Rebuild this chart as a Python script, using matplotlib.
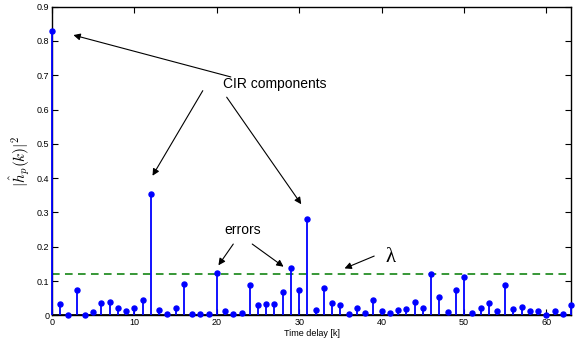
import matplotlib
matplotlib.use("Agg")
import matplotlib.pyplot as plt

# |h_p(k)|^2 per delay tap
delays = list(range(64))
power = [
    0.830, 0.033, 0.002, 0.073, 0.001, 0.011, 0.037, 0.038, 0.023, 0.012,
    0.023, 0.045, 0.353, 0.017, 0.005, 0.023, 0.093, 0.004, 0.004, 0.005,
    0.124, 0.012, 0.005, 0.006, 0.088, 0.031, 0.033, 0.034, 0.068, 0.138,
    0.073, 0.280, 0.015, 0.081, 0.035, 0.031, 0.004, 0.023, 0.006, 0.044,
    0.013, 0.008, 0.017, 0.018, 0.039, 0.023, 0.120, 0.054, 0.011, 0.073,
    0.111, 0.008, 0.022, 0.036, 0.013, 0.090, 0.020, 0.025, 0.013, 0.013,
    0.001, 0.014, 0.003, 0.030,
]
threshold = 0.122

x_ticks = [0, 10, 20, 30, 40, 50, 60]
y_ticks = [0, 0.1, 0.2, 0.3, 0.4, 0.5, 0.6, 0.7, 0.8, 0.9]
y_tick_labels = ["0", "0.1", "0.2", "0.3", "0.4", "0.5", "0.6", "0.7", "0.8", "0.9"]

BLUE = "#0000ff"
GREEN = "#007a00"

plt.rcParams["font.family"] = ["Liberation Sans", "DejaVu Sans"]
plt.rcParams["mathtext.fontset"] = "cm"

fig = plt.figure(figsize=(5.84, 3.47), dpi=100)
ax = fig.add_axes([0.089, 0.091, 0.889, 0.890])

markerline, stemlines, baseline = ax.stem(delays, power, basefmt="k-")
plt.setp(stemlines, color=BLUE, linewidth=1.3, zorder=3, clip_on=False)
plt.setp(markerline, color=BLUE, markersize=3.6, zorder=4, clip_on=False)
plt.setp(baseline, color="black", linewidth=2)

ax.axhline(threshold, color=GREEN, linestyle=(0, (5, 3.5)), linewidth=1.1, zorder=1)

ax.set_xlim(0, 63)
ax.set_ylim(0, 0.9)
ax.set_xticks(x_ticks)
ax.set_yticks(y_ticks)
ax.set_yticklabels(y_tick_labels)
ax.tick_params(direction="in", top=True, right=True, labelsize=6.5, length=4, width=0.8, pad=2)
for s in ax.spines.values():
    s.set_linewidth(1)
ax.set_xlabel("Time delay [k]", fontsize=6.5, labelpad=1)
ax.set_ylabel(r"$|\hat{h}_p(k)|^2$", fontsize=11, labelpad=3)

arrow = dict(arrowstyle="-|>", color="black", lw=0.8, mutation_scale=10, shrinkA=0, shrinkB=0)
txt = dict(fontsize=10, ha="center", va="center")

ax.text(27.0, 0.675, "CIR components", **txt)
ax.annotate("", xy=(2.6, 0.817), xytext=(21.7, 0.695), arrowprops=arrow)
ax.annotate("", xy=(12.2, 0.407), xytext=(18.3, 0.655), arrowprops=arrow)
ax.annotate("", xy=(30.25, 0.324), xytext=(21.2, 0.636), arrowprops=arrow)

ax.text(23.2, 0.249, "errors", **txt)
ax.annotate("", xy=(20.2, 0.146), xytext=(22.0, 0.208), arrowprops=arrow)
ax.annotate("", xy=(28.1, 0.142), xytext=(24.3, 0.208), arrowprops=arrow)

ax.text(41.1, 0.170, "λ", fontsize=15, ha="center", va="center",
        family=["Liberation Serif", "DejaVu Serif"])
ax.annotate("", xy=(35.5, 0.137), xytext=(39.1, 0.173), arrowprops=arrow)

fig.savefig("out.png", dpi=100)
